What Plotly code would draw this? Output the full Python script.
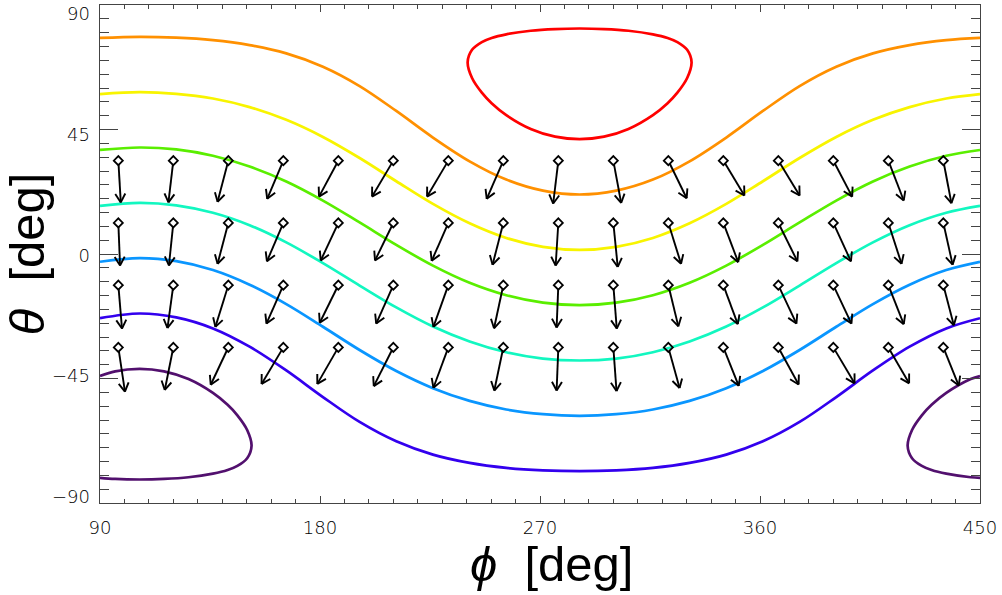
import math
import plotly.graph_objects as go

# ---------------------------------------------------------------------------
# Iso-contours on the (phi, theta) sky map, degrees.
# Open contours are sampled on a common phi grid.
# ---------------------------------------------------------------------------
phi_open = [90.0, 106.2, 121.2, 136.2, 151.2, 166.2, 181.2, 196.2, 211.2, 226.2,
            241.2, 256.2, 271.2, 286.2, 301.2, 316.2, 331.2, 346.2, 361.2, 376.2,
            391.2, 406.2, 421.2, 436.2, 450.0]

theta_orange = [78.1, 78.5, 78.2, 77.3, 75.5, 72.5, 67.7, 60.7, 51.7, 42.1,
                33.5, 26.9, 22.9, 21.5, 22.9, 26.9, 33.5, 42.1, 51.7, 60.7,
                67.7, 72.5, 75.5, 77.3, 78.1]
theta_yellow = [57.8, 58.5, 57.9, 56.2, 53.1, 48.5, 42.3, 34.7, 26.3, 18.1,
                11.1, 5.8, 2.6, 1.5, 2.6, 5.8, 11.1, 18.1, 26.3, 34.7,
                42.3, 48.5, 53.1, 56.2, 57.8]
theta_green = [37.6, 38.5, 37.8, 35.5, 31.6, 26.2, 19.3, 11.4, 3.3, -4.2,
               -10.4, -14.9, -17.6, -18.5, -17.6, -14.9, -10.4, -4.2, 3.3, 11.4,
               19.3, 26.2, 31.6, 35.5, 37.6]
theta_aqua = [17.4, 18.5, 17.6, 14.9, 10.4, 4.2, -3.3, -11.4, -19.3, -26.2,
              -31.6, -35.5, -37.8, -38.5, -37.8, -35.5, -31.6, -26.2, -19.3, -11.4,
              -3.3, 4.2, 10.4, 14.9, 17.4]
theta_blue = [-2.8, -1.5, -2.6, -5.8, -11.1, -18.1, -26.3, -34.7, -42.3, -48.5,
              -53.1, -56.2, -57.9, -58.5, -57.9, -56.2, -53.1, -48.5, -42.3, -34.7,
              -26.3, -18.1, -11.1, -5.8, -2.8]
theta_indigo = [-23.2, -21.5, -22.9, -26.9, -33.5, -42.1, -51.7, -60.7, -67.7, -72.5,
                -75.5, -77.3, -78.2, -78.5, -78.2, -77.3, -75.5, -72.5, -67.7, -60.7,
                -51.7, -42.1, -33.5, -26.9, -23.2]

# Closed contour around the maximum
phi_red = [286.2, 276.2, 266.2, 256.2, 250.2, 246.2, 242.2, 240.4, 242.2, 246.2,
           250.2, 256.2, 266.2, 276.2, 286.2, 296.2, 306.2, 316.2, 322.2, 326.2,
           330.2, 332.0, 330.2, 326.2, 322.2, 316.2, 306.2, 296.2, 286.2]
theta_red = [81.5, 81.3, 80.7, 79.4, 78.1, 76.6, 73.8, 69.3, 63.6, 58.3,
             54.5, 50.2, 45.2, 42.4, 41.5, 42.4, 45.2, 50.2, 54.5, 58.3,
             63.6, 69.3, 73.8, 76.6, 78.1, 79.4, 80.7, 81.3, 81.5]

# Closed contour around the minimum, split by the phi = 90 / 450 seam
phi_purple_a = [90.0, 96.2, 106.2, 116.2, 126.2, 136.2, 142.2, 146.2, 150.2, 152.0,
                150.2, 146.2, 142.2, 136.2, 126.2, 116.2, 106.2, 96.2, 90.0]
theta_purple_a = [-44.1, -42.4, -41.5, -42.4, -45.2, -50.2, -54.5, -58.3, -63.6, -69.3,
                  -73.8, -76.6, -78.1, -79.4, -80.7, -81.3, -81.5, -81.3, -80.9]
phi_purple_b = [450.0, 446.2, 436.2, 430.2, 426.2, 422.2, 420.4, 422.2, 426.2, 430.2,
                436.2, 446.2, 450.0]
theta_purple_b = [-44.1, -45.2, -50.2, -54.5, -58.3, -63.6, -69.3, -73.8, -76.6, -78.1,
                  -79.4, -80.7, -80.9]

contour_colors = {
    "red": "#ff0000",
    "orange": "#ff9000",
    "yellow": "#f8f400",
    "green": "#5aee00",
    "aqua": "#12f7c0",
    "blue": "#0a96ff",
    "indigo": "#3300ee",
    "purple": "#52106e",
}

# ---------------------------------------------------------------------------
# Vector field: tails on a regular grid, components in degrees
# ---------------------------------------------------------------------------
arrow_phi = [97.5, 120.0, 142.5, 165.0, 187.5, 210.0, 232.5, 255.0,
             277.5, 300.0, 322.5, 345.0, 367.5, 390.0, 412.5, 435.0]
arrow_theta = [33.75, 11.25, -11.25, -33.75]

arrow_dphi = [
    [1.0, -2.0, -4.4, -6.6, -7.9, -8.7, -8.7, -6.8, -2.1, 3.2, 7.5, 8.6, 8.7, 7.7, 6.3, 3.3],
    [0.7, -1.8, -4.4, -6.7, -7.2, -7.5, -6.8, -4.4, -1.1, 1.8, 5.2, 6.1, 7.8, 7.2, 5.4, 3.8],
    [1.5, -2.4, -5.3, -6.9, -7.6, -7.0, -6.1, -3.8, -0.7, 1.4, 4.1, 5.9, 7.4, 7.4, 6.3, 4.3],
    [2.7, -3.5, -7.2, -8.9, -8.6, -8.0, -6.1, -3.7, -0.7, 1.3, 4.6, 6.3, 8.3, 8.7, 8.5, 6.3],
]
arrow_dtheta = [
    [-15.1, -15.1, -14.9, -13.8, -13.0, -13.0, -13.0, -13.8, -15.5, -15.3, -13.6, -12.6, -12.6, -13.0, -14.4, -15.4],
    [-15.4, -15.4, -14.8, -13.9, -13.6, -13.6, -13.7, -15.1, -15.4, -15.9, -14.8, -14.2, -13.9, -13.9, -14.8, -15.1],
    [-15.7, -15.5, -15.1, -13.9, -13.6, -13.9, -15.1, -15.6, -15.3, -15.7, -14.9, -14.1, -13.9, -13.9, -14.1, -14.5],
    [-16.0, -15.4, -13.5, -13.2, -13.2, -14.0, -14.6, -15.6, -15.6, -15.8, -14.7, -13.9, -13.4, -13.0, -13.0, -13.8],
]

# Axis ticks
x_ticks = [90, 180, 270, 360, 450]
y_ticks = [-90, -45, 0, 45, 90]
x_range = [90, 450]
y_range = [-90, 90]

# Figure geometry
W, H = 1002, 595
M = dict(l=100, r=22, t=3, b=92)
kx = (W - M["l"] - M["r"]) / (x_range[1] - x_range[0])   # px per degree of phi
ky = (H - M["t"] - M["b"]) / (y_range[1] - y_range[0])   # px per degree of theta

fig = go.Figure()

line_w = 2.7
open_curves = [
    (theta_orange, "orange"), (theta_yellow, "yellow"), (theta_green, "green"),
    (theta_aqua, "aqua"), (theta_blue, "blue"), (theta_indigo, "indigo"),
]
for th, key in open_curves:
    fig.add_trace(go.Scatter(x=phi_open, y=th, mode="lines",
                             line=dict(color=contour_colors[key], width=line_w, shape="spline"),
                             hoverinfo="skip"))

fig.add_trace(go.Scatter(x=phi_red, y=theta_red, mode="lines",
                         line=dict(color=contour_colors["red"], width=line_w, shape="spline"),
                         hoverinfo="skip"))
for px_, th_ in ((phi_purple_a, theta_purple_a), (phi_purple_b, theta_purple_b)):
    fig.add_trace(go.Scatter(x=px_, y=th_, mode="lines",
                             line=dict(color=contour_colors["purple"], width=line_w, shape="spline"),
                             hoverinfo="skip"))

# Arrows: shaft from the tail diamond to the tip, open V head
head_len = 10.0         # px
head_half_angle = 30.0  # deg
tail_gap = 3.5          # px, shaft starts at the diamond edge

ax_x, ax_y = [], []
tail_x, tail_y = [], []
for i, th in enumerate(arrow_theta):
    for j, ph in enumerate(arrow_phi):
        tip_x = ph + arrow_dphi[i][j]
        tip_y = th + arrow_dtheta[i][j]
        ux, uy = arrow_dphi[i][j] * kx, arrow_dtheta[i][j] * ky
        n = math.hypot(ux, uy)
        ux, uy = ux / n, uy / n
        tail_x.append(ph)
        tail_y.append(th)
        # shaft
        ax_x += [ph + ux * tail_gap / kx, tip_x, None]
        ax_y += [th + uy * tail_gap / ky, tip_y, None]
        # head arms
        for s in (1, -1):
            a = math.radians(180.0 + s * head_half_angle)
            bx = ux * math.cos(a) - uy * math.sin(a)
            by = ux * math.sin(a) + uy * math.cos(a)
            ax_x += [tip_x, tip_x + bx * head_len / kx, None]
            ax_y += [tip_y, tip_y + by * head_len / ky, None]

fig.add_trace(go.Scatter(x=ax_x, y=ax_y, mode="lines",
                         line=dict(color="black", width=1.9),
                         hoverinfo="skip"))
fig.add_trace(go.Scatter(x=tail_x, y=tail_y, mode="markers",
                         marker=dict(symbol="diamond-open", size=7, color="black",
                                     line=dict(width=1.8, color="black")),
                         hoverinfo="skip"))

axis_col = "#444444"
tick_font = dict(family="DejaVu Sans", size=18, color="#000000", weight=200)
title_font = dict(family="Liberation Sans, Arial, sans-serif", size=49, color="black")

fig.update_layout(
    width=W, height=H,
    margin=M,
    paper_bgcolor="white", plot_bgcolor="white",
    showlegend=False,
)
fig.update_xaxes(
    range=x_range, tickvals=x_ticks, ticktext=[str(v) for v in x_ticks],
    ticks="inside", ticklen=7, tickwidth=1, tickcolor=axis_col,
    showline=True, linecolor=axis_col, linewidth=1, mirror="ticks",
    showgrid=False, zeroline=False,
    minor=dict(tick0=90, dtick=10, ticks="inside", ticklen=4, tickwidth=1,
               tickcolor=axis_col, showgrid=False),
    tickfont=tick_font, ticklabelstandoff=8,
)
# phi axis title, set a little right of the axis centre
fig.add_annotation(
    text="<i>\u03d5</i>\u00a0 [deg]", font=title_font,
    xref="paper", yref="paper", x=0.5128, y=-0.1222,
    xanchor="center", yanchor="middle", showarrow=False,
)
# main theta axis: frame and ticks
fig.update_layout(yaxis=dict(
    range=y_range, tickvals=y_ticks, showticklabels=False,
    ticks="inside", ticklen=18, tickwidth=1, tickcolor=axis_col,
    showline=True, linecolor=axis_col, linewidth=1, mirror="ticks",
    showgrid=False, zeroline=False,
    minor=dict(tick0=-90, dtick=5, ticks="inside", ticklen=9, tickwidth=1,
               tickcolor=axis_col, showgrid=False),
))
# theta tick labels, spread slightly inside the frame ends
fig.update_layout(yaxis2=dict(
    overlaying="y", side="left", anchor="x",
    range=[-92.34, 93.23], tickvals=y_ticks,
    ticks="", showline=False, showgrid=False, zeroline=False,
    tickfont=tick_font, ticklabelstandoff=9,
    title=dict(text="<i>\u03b8</i>\u00a0 [deg]", font=title_font, standoff=4),
))
fig.add_trace(go.Scatter(x=[], y=[], yaxis="y2", mode="markers", hoverinfo="skip"))

fig.write_html("out.html", config={"displayModeBar": False})
